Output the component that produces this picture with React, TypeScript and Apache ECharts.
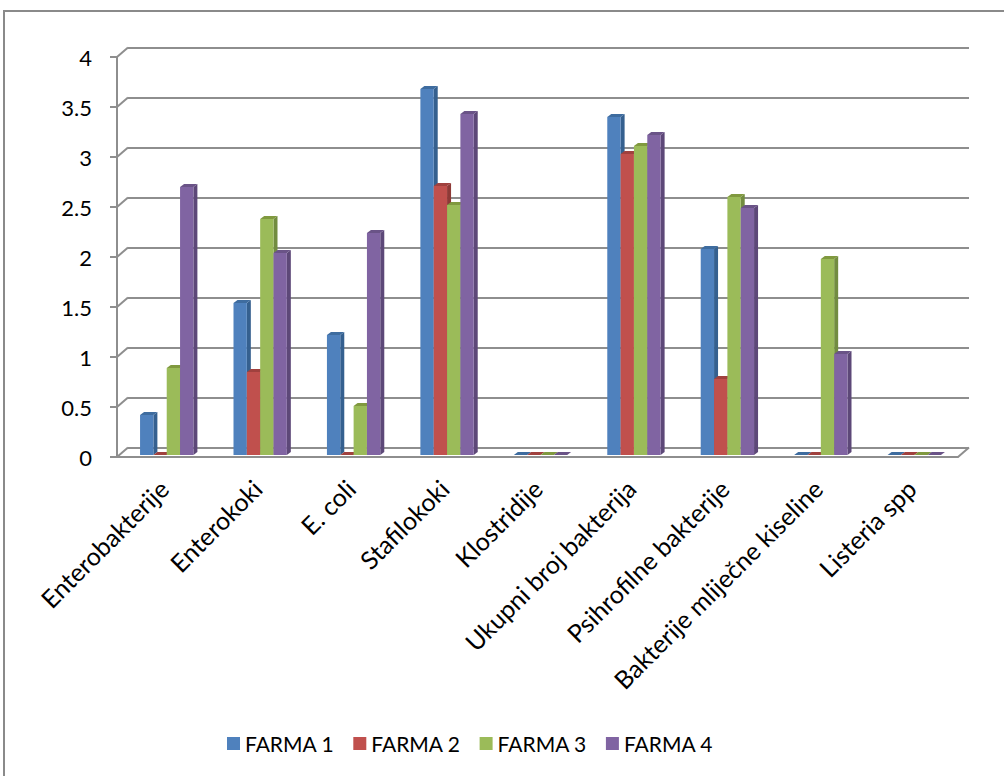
import React, { useEffect, useRef } from "react";
import * as echarts from "echarts";

const categories = [
  "Enterobakterije",
  "Enterokoki",
  "E. coli",
  "Stafilokoki",
  "Klostridije",
  "Ukupni broj bakterija",
  "Psihrofilne bakterije",
  "Bakterije mliječne kiseline",
  "Listeria spp",
];
const farmNames = ["FARMA 1", "FARMA 2", "FARMA 3", "FARMA 4"];
const farma1 = [0.4, 1.52, 1.2, 3.66, 0, 3.38, 2.06, 0, 0];
const farma2 = [0, 0.83, 0, 2.69, 0, 3.01, 0.76, 0, 0];
const farma3 = [0.87, 2.36, 0.49, 2.5, 0, 3.09, 2.58, 1.96, 0];
const farma4 = [2.68, 2.02, 2.22, 3.41, 0, 3.2, 2.47, 1.01, 0];
const seriesValues = [farma1, farma2, farma3, farma4];
const yTicks = [0, 0.5, 1, 1.5, 2, 2.5, 3, 3.5, 4];

const frontColors = ["#4F81BD", "#C0504D", "#9BBB59", "#8064A2"];
const sideColors = ["#35608F", "#8E3A37", "#728C40", "#5D4878"];
const topColors = ["#3E6C9F", "#A0413E", "#80993F", "#6A5387"];

const FONT = "Lato, 'Open Sans', sans-serif";
const GRID_COLOR = "#8e8e8e";

export default function App() {
  const ref = useRef<HTMLDivElement>(null);
  useEffect(() => {
    if (!ref.current) return;
    const chart = echarts.init(ref.current, undefined, { renderer: "svg" });
    const DX = 11;
    const DY = 9.5;
    const barSeries = seriesValues.map((vals, si) => ({
      name: farmNames[si],
      type: "custom",
      xAxisIndex: 0,
      yAxisIndex: 0,
      itemStyle: { color: frontColors[si] },
      data: vals.map((v, i) => [i, v]),
      renderItem: (params: any, api: any) => {
        const ci = api.value(0);
        const v = api.value(1);
        const base = api.coord([ci, 0]);
        const top = api.coord([ci, v]);
        const cw = api.size([1, 0])[0];
        const bw = cw * 0.1427;
        const ox = 3;
        const oy = -2;
        const x0 = base[0] - 2 * bw + si * bw + ox;
        const yb = base[1] + oy;
        const yt = top[1] + oy;
        const dx = 4;
        const dy = 3;
        return {
          type: "group",
          children: [
            {
              type: "polygon",
              shape: {
                points: [
                  [x0 + bw, yt],
                  [x0 + bw + dx, yt - dy],
                  [x0 + bw + dx, yb - dy],
                  [x0 + bw, yb],
                ],
              },
              style: { fill: sideColors[si] },
            },
            {
              type: "polygon",
              shape: {
                points: [
                  [x0, yt],
                  [x0 + dx, yt - dy],
                  [x0 + bw + dx, yt - dy],
                  [x0 + bw, yt],
                ],
              },
              style: { fill: topColors[si] },
            },
            {
              type: "rect",
              shape: { x: x0, y: yt, width: bw, height: Math.max(0, yb - yt) },
              style: { fill: frontColors[si] },
            },
          ],
        };
      },
    }));

    const option: any = {
      animation: false,
      color: frontColors,
      textStyle: { fontFamily: FONT },
      graphic: [
        {
          type: "rect",
          shape: { x: 4, y: 11, width: 1100, height: 1000 },
          style: { fill: "none", stroke: "#8a8a8a", lineWidth: 2 },
          silent: true,
        },
      ],
      legend: {
        data: farmNames,
        left: 227,
        top: 733,
        padding: 0,
        icon: "rect",
        itemWidth: 13,
        itemHeight: 13,
        itemGap: 19,
        textStyle: { fontSize: 21, color: "#000", fontFamily: FONT },
      },
      grid: [
        { left: 117, top: 57, width: 841, height: 400 },
        { left: 128, top: 47.5, width: 841, height: 400 },
      ],
      xAxis: [
        {
          type: "category",
          gridIndex: 0,
          data: categories,
          axisLine: { show: true, lineStyle: { color: GRID_COLOR, width: 2 } },
          axisTick: { show: false },
          axisLabel: {
            interval: 0,
            rotate: 45,
            margin: 27,
            fontSize: 25,
            color: "#000",
            fontFamily: FONT,
          },
          splitLine: { show: false },
        },
        {
          type: "value",
          gridIndex: 1,
          show: false,
          min: 0,
          max: 1,
        },
      ],
      yAxis: [
        {
          type: "value",
          gridIndex: 0,
          min: 0,
          max: 4,
          interval: 0.5,
          axisLine: { show: true, lineStyle: { color: GRID_COLOR, width: 2 } },
          axisTick: { show: true, length: 7, lineStyle: { color: GRID_COLOR, width: 2 } },
          axisLabel: { margin: 25, fontSize: 22, color: "#000", fontFamily: FONT },
          splitLine: { show: false },
        },
        {
          type: "value",
          gridIndex: 1,
          min: 0,
          max: 4,
          interval: 0.5,
          axisLine: { show: false },
          axisTick: { show: false },
          axisLabel: { show: false },
          splitLine: { show: true, lineStyle: { color: GRID_COLOR, width: 2 } },
        },
      ],
      series: [
        {
          type: "custom",
          name: "wall",
          xAxisIndex: 0,
          yAxisIndex: 0,
          silent: true,
          data: yTicks.map((t) => [0, t]),
          renderItem: (params: any, api: any) => {
            const t = api.value(1);
            const y = api.coord([0, t])[1];
            const cs = params.coordSys;
            const x = cs.x;
            const children: any[] = [
              {
                type: "line",
                shape: { x1: x, y1: y, x2: x + DX, y2: y - DY },
                style: { stroke: GRID_COLOR, lineWidth: 2 },
              },
            ];
            if (t === 0) {
              children.push({
                type: "line",
                shape: { x1: x + cs.width, y1: y, x2: x + cs.width + DX, y2: y - DY },
                style: { stroke: GRID_COLOR, lineWidth: 2 },
              });
            }
            return { type: "group", children };
          },
        },
        ...barSeries,
      ],
    };
    chart.setOption(option);
    return () => chart.dispose();
  }, []);
  return (
    <div
      ref={ref}
      style={{ position: "fixed", left: 0, top: 0, width: 1004, height: 776, background: "#fff" }}
    />
  );
}
